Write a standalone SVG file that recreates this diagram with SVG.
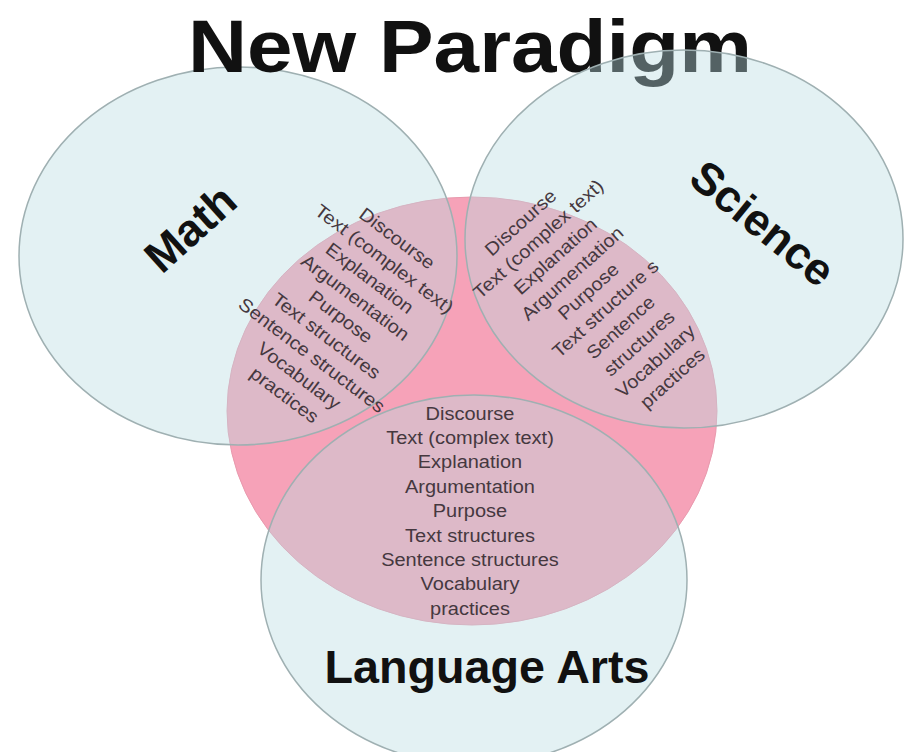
<svg xmlns="http://www.w3.org/2000/svg" width="909" height="752" viewBox="0 0 909 752">
  <style>
    .blue { fill: rgb(185,220,225); fill-opacity: 0.4; stroke: #9fb0b2; stroke-width: 1.5; }
    .pink { fill: #f6a2b8; stroke: #e89aae; stroke-width: 1; }
    .label { font-family: "Liberation Sans", Arial, sans-serif; font-weight: bold; fill: #111; text-anchor: middle; }
    .item { font-family: "Liberation Sans", Arial, sans-serif; font-size: 18.5px; fill: #45383f; text-anchor: middle; }
  </style>
  <rect x="0" y="0" width="909" height="752" fill="#ffffff"/>

  <g id="core">
    <ellipse class="pink" cx="472" cy="411" rx="245" ry="214"/>
  </g>

  <g id="math">
    <ellipse class="blue" cx="238" cy="256" rx="219" ry="189"/>
  </g>

  <g id="title">
    <text class="label" x="470" y="72" font-size="75" textLength="564" lengthAdjust="spacingAndGlyphs">New Paradigm</text>
  </g>

  <g id="science">
    <ellipse class="blue" cx="684" cy="239" rx="219" ry="189"/>
  </g>

  <g id="language-arts">
    <ellipse class="blue" cx="474" cy="580" rx="213" ry="185"/>
  </g>

  <g id="connectors"></g>

  <g id="math-label">
    <text class="label" font-size="45" transform="translate(190,228) rotate(-42)" x="0" y="16">Math</text>
  </g>

  <g id="science-label">
    <text class="label" font-size="45" transform="translate(763,223) rotate(39)" x="0" y="16">Science</text>
  </g>

  <g id="language-arts-label">
    <text class="label" font-size="47" x="487" y="683" textLength="325" lengthAdjust="spacingAndGlyphs">Language Arts</text>
  </g>

  <g id="math-overlap" transform="translate(370,278) rotate(37) scale(1.08,1)">
    <text class="item" x="-2" y="-41.6">Discourse</text>
    <text class="item" x="0" y="-17.5">Text (complex text)</text>
    <text class="item" x="0" y="6.6">Explanation</text>
    <text class="item" x="0" y="30.7">Argumentation</text>
    <text class="item" x="0" y="54.8">Purpose</text>
    <text class="item" x="0" y="78.9">Text structures</text>
    <text class="item" x="0" y="103">Sentence structures</text>
    <text class="item" x="2" y="127.1">Vocabulary</text>
    <text class="item" x="2" y="151.2">practices</text>
  </g>

  <g id="science-overlap" transform="translate(555,256) rotate(-42) scale(1.08,1)">
    <text class="item" x="-3" y="-41.7">Discourse</text>
    <text class="item" x="-1" y="-17.5">Text (complex text)</text>
    <text class="item" x="0" y="6.6">Explanation</text>
    <text class="item" x="1" y="30.8">Argumentation</text>
    <text class="item" x="1" y="54.9">Purpose</text>
    <text class="item" x="2" y="79.1">Text structure s</text>
    <text class="item" x="1" y="103.2">Sentence</text>
    <text class="item" x="4" y="127.4">structures</text>
    <text class="item" x="4" y="151.5">Vocabulary</text>
    <text class="item" x="5" y="175.7">practices</text>
  </g>

  <g id="shared-center">
    <text class="item" x="470" y="419.6" transform="translate(470,0) scale(1.08,1) translate(-470,0)">Discourse</text>
    <text class="item" x="470" y="444" transform="translate(470,0) scale(1.08,1) translate(-470,0)">Text (complex text)</text>
    <text class="item" x="470" y="468.4" transform="translate(470,0) scale(1.08,1) translate(-470,0)">Explanation</text>
    <text class="item" x="470" y="492.8" transform="translate(470,0) scale(1.08,1) translate(-470,0)">Argumentation</text>
    <text class="item" x="470" y="517.2" transform="translate(470,0) scale(1.08,1) translate(-470,0)">Purpose</text>
    <text class="item" x="470" y="541.6" transform="translate(470,0) scale(1.08,1) translate(-470,0)">Text structures</text>
    <text class="item" x="470" y="566" transform="translate(470,0) scale(1.08,1) translate(-470,0)">Sentence structures</text>
    <text class="item" x="470" y="590.4" transform="translate(470,0) scale(1.08,1) translate(-470,0)">Vocabulary</text>
    <text class="item" x="470" y="614.8" transform="translate(470,0) scale(1.08,1) translate(-470,0)">practices</text>
  </g>
</svg>
